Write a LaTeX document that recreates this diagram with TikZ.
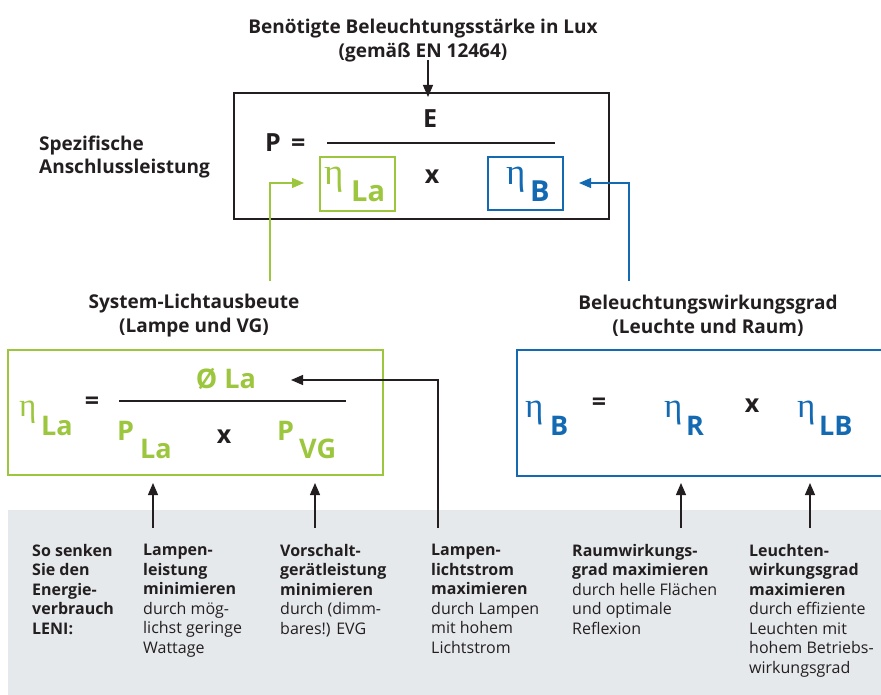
\documentclass[tikz,border=0pt]{standalone}
\usepackage{fontspec}
\setmainfont{Open Sans}
\newfontfamily\etafont{Liberation Serif}
\usetikzlibrary{arrows.meta}
\definecolor{lgreen}{HTML}{9DC63F}
\definecolor{lblue}{HTML}{136AB3}
\definecolor{lgray}{HTML}{E6E9EC}
\definecolor{ink}{HTML}{231F20}
\begin{document}
\begin{tikzpicture}[x=1pt,y=-1pt,
  tip/.style={-{Triangle[length=12pt,width=10pt]}},
  conn/.style={line width=1.2pt},
  frame/.style={draw, line width=1.3pt, inner sep=0pt},
  lbl/.style={font=\fontsize{19}{24}\selectfont\bfseries, align=center, text=ink, inner sep=0pt},
  col/.style={anchor=north west, inner sep=0pt, align=left, text=ink, font=\fontsize{16}{19.5}\selectfont},
  big/.style={anchor=base west, inner sep=0pt, font=\fontsize{25}{25}\selectfont\bfseries},
  sub/.style={anchor=base west, inner sep=0pt, font=\fontsize{29}{29}\selectfont\bfseries},
  eta/.style={anchor=base west, inner sep=0pt, font=\fontsize{37}{37}\selectfont\etafont},
  midbig/.style={anchor=base west, inner sep=0pt, font=\fontsize{27}{27}\selectfont\bfseries},
  midsub/.style={anchor=base west, inner sep=0pt, font=\fontsize{27}{27}\selectfont\bfseries},
  mideta/.style={anchor=base west, inner sep=0pt, font=\fontsize{33}{33}\selectfont\etafont},
  rideta/.style={anchor=base west, inner sep=0pt, font=\fontsize{35}{35}\selectfont\etafont}]
\useasboundingbox (0,0) rectangle (881,695);
% gray band
\fill[lgray] (8,510) rectangle (881,695);

% titles
\node[lbl] (title) at (423,41) {Benötigte Beleuchtungsstärke in Lux\\(gemäß EN 12464)};
\node[lbl, anchor=west, align=left, font=\fontsize{19}{23}\selectfont\bfseries] (spez) at (39,157) {Spezifische\\Anschlussleistung};
\node[lbl] (sys) at (194,315.5) {System-Lichtausbeute\\(Lampe und VG)};
\node[lbl] (bel) at (708,316) {Beleuchtungswirkungsgrad\\(Leuchte und Raum)};

% top box
\node[frame, draw=ink, minimum width=375pt, minimum height=126pt] (topbox) at (421.5,156) {};
\node[frame, draw=lgreen, minimum width=75pt, minimum height=54pt] (gbox) at (357.5,184) {};
\node[frame, draw=lblue, minimum width=75pt, minimum height=53pt] (bbox) at (525.5,183.5) {};
\node[big, text=ink] (P) at (265,152) {P};
\node[big, text=ink] (eq0) at (291,152) {=};
\node[big, text=ink, anchor=base] (E) at (430,128) {E};
\draw[ink, line width=1.1pt] (327,143) -- (555,143);
\node[big, text=ink, anchor=base] (x1) at (432,184) {x};
\node[eta, text=lgreen] (e1) at (324,185) {η};
\node[sub, text=lgreen] (s1) at (351,202) {La};
\node[eta, text=lblue] (e2) at (506,185) {η};
\node[sub, text=lblue] (s2) at (530,202) {B};

% left box
\node[frame, draw=lgreen, minimum width=375pt, minimum height=125pt] (lbox) at (195.5,412.5) {};
\node[mideta, text=lgreen] (e3) at (19,416) {η};
\node[midsub, text=lgreen] (s3) at (41,435) {La};
\node[big, text=ink, anchor=base] (eq1) at (92,409) {=};
\node[midbig, text=lgreen, anchor=base] (phi) at (226,388) {Ø La};
\draw[ink, line width=1.1pt] (119,401) -- (346,401);
\node[midsub, text=lgreen] (p1) at (117,440) {P};
\node[midsub, text=lgreen] (s4) at (140,458) {La};
\node[big, text=ink, anchor=base] (x2) at (224,443) {x};
\node[midsub, text=lgreen] (p2) at (277,440) {P};
\node[midsub, text=lgreen] (s5) at (299,458) {VG};

% right box (runs off the right edge)
\draw[lblue, line width=1.3pt] (895,350) -- (517,350) -- (517,476) -- (895,476);
\node[rideta, text=lblue] (e4) at (525,417) {η};
\node[midsub, text=lblue] (s6) at (550,435) {B};
\node[big, text=ink, anchor=base] (eq2) at (599,410) {=};
\node[rideta, text=lblue] (e5) at (664,417) {η};
\node[midsub, text=lblue] (s7) at (686,435) {R};
\node[big, text=ink, anchor=base] (x3) at (752,412) {x};
\node[rideta, text=lblue] (e6) at (797,417) {η};
\node[midsub, text=lblue] (s8) at (819,435) {LB};

% connectors
\coordinate (a0) at (428,60);
\draw[conn, ink, tip] (a0) -- (428,97);
\coordinate (g0) at (270,281);
\coordinate (g1) at (304,183);
\draw[conn, lgreen, tip] (g0) |- (g1);
\coordinate (b0) at (629,281);
\coordinate (b1) at (579,183);
\draw[conn, lblue, tip] (b0) |- (b1);
\coordinate (k0) at (438,528);
\coordinate (k1) at (291,380);
\draw[conn, ink, tip] (k0) |- (k1);
\foreach \xx/\nm in {153/u1,315/u2,681/u3,810/u4}{
  \coordinate (\nm) at (\xx,528);
  \draw[conn, ink, tip] (\nm) -- (\xx,483);
}

% bottom texts
\node[col] (c1) at (32,544) {\bfseries So senken\\\bfseries Sie den\\\bfseries Energie-\\\bfseries verbrauch\\\bfseries LENI:};
\node[col] (c2) at (143,544) {\bfseries Lampen-\\\bfseries leistung\\\bfseries minimieren\\durch mög-\\lichst geringe\\Wattage};
\node[col] (c3) at (280,544) {\bfseries Vorschalt-\\\bfseries gerätleistung\\\bfseries minimieren\\durch (dimm-\\bares!) EVG};
\node[col] (c4) at (431,544) {\bfseries Lampen-\\\bfseries lichtstrom\\\bfseries maximieren\\durch Lampen\\mit hohem\\Lichtstrom};
\node[col] (c5) at (572,544) {\bfseries Raumwirkungs-\\\bfseries grad maximieren\\durch helle Flächen\\und optimale\\Reflexion};
\node[col] (c6) at (749,544) {\bfseries Leuchten-\\\bfseries wirkungsgrad\\\bfseries maximieren\\durch effiziente\\Leuchten mit\\hohem Betriebs-\\wirkungsgrad};
\end{tikzpicture}
\end{document}
